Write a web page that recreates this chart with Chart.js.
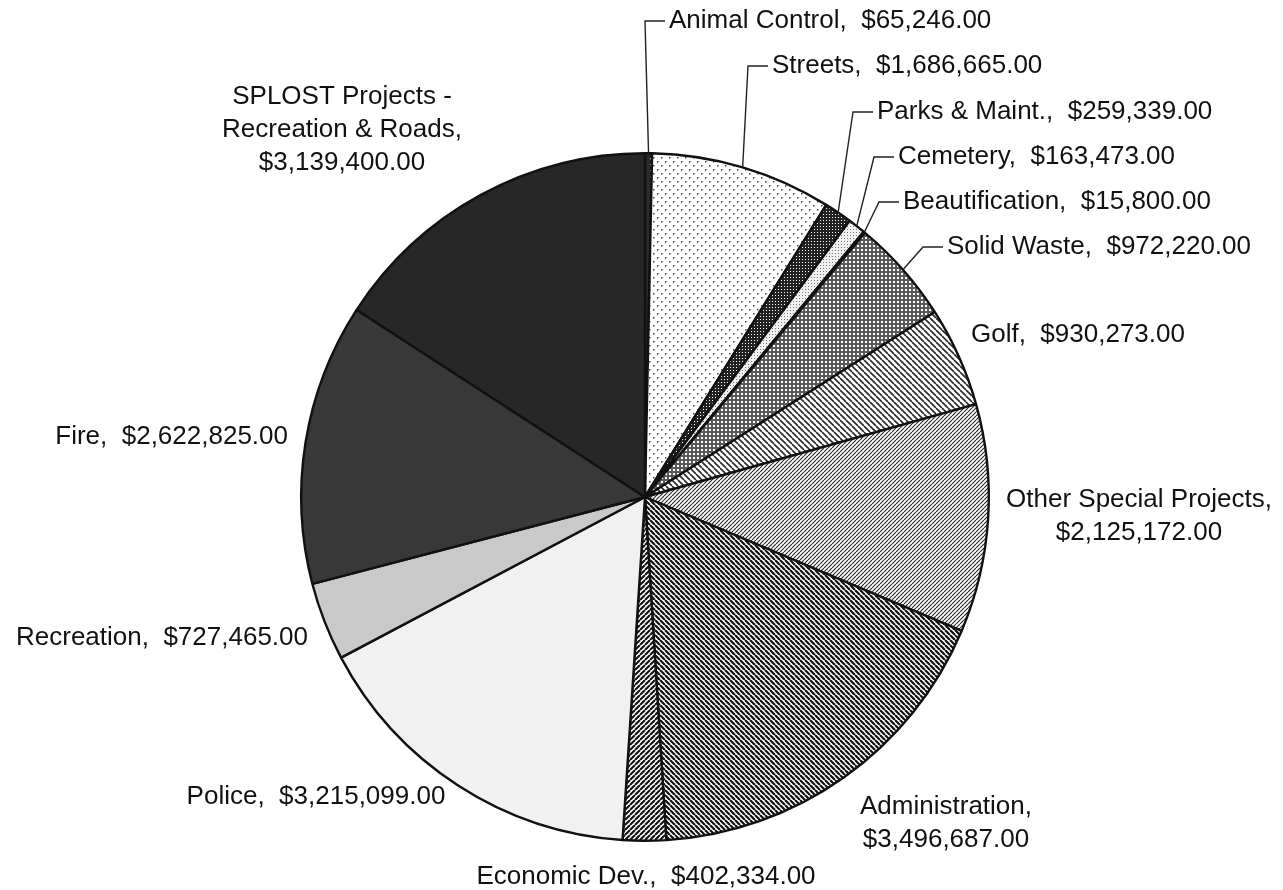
<!DOCTYPE html>
<html><head><meta charset="utf-8">
<script src="https://cdn.jsdelivr.net/npm/chart.js@4/dist/chart.umd.min.js"></script>
<style>html,body{margin:0;padding:0;background:#fff}#wrap{width:1283px;height:890px;position:relative}</style>
</head><body><div id="wrap"><canvas id="c"></canvas></div>
<script>
// ---- data ----
const categories = ["Animal Control","Streets","Parks & Maint.","Cemetery","Beautification","Solid Waste","Golf","Other Special Projects","Administration","Economic Dev.","Police","Recreation","Fire","SPLOST Projects - Recreation & Roads"];
const amounts = [65246,1686665,259339,163473,15800,972220,930273,2125172,3496687,402334,3215099,727465,2622825,3139400];
// label text lines (name part); value line is appended from amounts
const labelNameLines = [
  ["Animal Control,"],["Streets,"],["Parks & Maint.,"],["Cemetery,"],["Beautification,"],["Solid Waste,"],["Golf,"],
  ["Other Special Projects,"],["Administration,"],["Economic Dev.,"],["Police,"],["Recreation,"],["Fire,"],
  ["SPLOST Projects -","Recreation & Roads,"]
];
const multiLine = [false,false,false,false,false,false,false,true,true,false,false,false,false,true];

// ---- label layout (offsets from pie centre) ----
const labelLayout = [
  {dx:24, dy:-476, align:'left', leader:true},
  {dx:127,dy:-431, align:'left', leader:true},
  {dx:232,dy:-385, align:'left', leader:true},
  {dx:253,dy:-340, align:'left', leader:true},
  {dx:258,dy:-295, align:'left', leader:true},
  {dx:302,dy:-250, align:'left', leader:true},
  {dx:326,dy:-162, align:'left'},
  {dx:494,dy:3,    align:'center'},
  {dx:301,dy:310,  align:'center'},
  {dx:1,  dy:380,  align:'center'},
  {dx:-329,dy:300, align:'center'},
  {dx:-337,dy:141, align:'right'},
  {dx:-357,dy:-60, align:'right'},
  {dx:-303,dy:-400,align:'center'}
];

const money = v => '$' + v.toLocaleString('en-US',{minimumFractionDigits:2, maximumFractionDigits:2});
const labelLines = categories.map((c,i)=>{
  const names = labelNameLines[i];
  if (multiLine[i]) return names.concat([money(amounts[i])]);
  return [names[0] + '  ' + money(amounts[i])];
});

// ---- fill patterns ----
const mainCanvas = document.getElementById('c');
const mctx = mainCanvas.getContext('2d');
function makePattern(size, draw){
  const c=document.createElement('canvas'); c.width=size; c.height=size;
  const x=c.getContext('2d'); draw(x,size); return mctx.createPattern(c,'repeat');
}
function diag(size, dir, lw, color, bg){
  return makePattern(size,(x,s)=>{
    x.fillStyle=bg; x.fillRect(0,0,s,s);
    x.strokeStyle=color; x.lineWidth=lw; x.beginPath();
    for(let k=-1;k<=1;k++){
      if(dir==='/'){ x.moveTo(k*s, s); x.lineTo(k*s+s, 0); }
      else { x.moveTo(k*s, 0); x.lineTo(k*s+s, s); }
    }
    x.stroke();
  });
}
function dots(size, bg, color, pts, d){
  return makePattern(size,(x,s)=>{
    x.fillStyle=bg; x.fillRect(0,0,s,s);
    x.fillStyle=color; pts.forEach(p=>x.fillRect(p[0],p[1],d,d));
  });
}
const fills = [
  dots(6,'#2b2b2b','#ffffff',[[2,2]],1.5),               // Animal Control
  dots(8,'#ffffff','#444444',[[1,1],[5,5]],1.5),         // Streets
  dots(3,'#222222','#ffffff',[[1,1]],1),                 // Parks
  dots(3,'#f0f0f0','#777777',[[1,1]],1),                 // Cemetery
  '#ffffff',                                            // Beautification
  dots(4,'#5a5a5a','#ffffff',[[1,1]],2),                 // Solid Waste
  diag(6,'\\',1.6,'#2a2a2a','#ffffff'),                 // Golf
  diag(4,'/',1.2,'#2e2e2e','#ffffff'),                  // Other Special Projects
  diag(5,'\\',2.2,'#111111','#ffffff'),                 // Administration
  diag(5,'/',2.1,'#111111','#ffffff'),                  // Economic Dev.
  '#f1f1f1',                                            // Police
  '#c9c9c9',                                            // Recreation
  '#383838',                                            // Fire
  '#272727'                                             // SPLOST
];

const labelPlugin = {
  id:'sliceLabels',
  afterDatasetsDraw(chart){
    const ctx=chart.ctx; const meta=chart.getDatasetMeta(0);
    const cx=meta.data[0].x, cy=meta.data[0].y;
    ctx.save();
    ctx.font='26px "Liberation Sans", Arial, sans-serif';
    ctx.fillStyle='#111'; ctx.textBaseline='middle';
    meta.data.forEach((arc,i)=>{
      const L=labelLayout[i]; const tx=cx+L.dx, ty=cy+L.dy;
      if(L.leader){
        const mid=(arc.startAngle+arc.endAngle)/2;
        const ax=cx+Math.cos(mid)*arc.outerRadius, ay=cy+Math.sin(mid)*arc.outerRadius;
        ctx.beginPath(); ctx.moveTo(ax,ay); ctx.lineTo(tx-24,ty); ctx.lineTo(tx-4,ty);
        ctx.strokeStyle='#222'; ctx.lineWidth=1.4; ctx.stroke();
      }
      ctx.textAlign=L.align;
      labelLines[i].forEach((t,j)=>ctx.fillText(t, tx, ty + j*33));
    });
    ctx.restore();
  }
};

new Chart(mainCanvas, {
  type:'pie',
  data:{ labels:categories, datasets:[{ data:amounts, backgroundColor:fills, borderColor:'#111', borderWidth:2.4 }] },
  options:{
    responsive:true, maintainAspectRatio:false, animation:false,
    layout:{ padding:{left:300,right:293,top:152,bottom:48} },
    plugins:{ legend:{display:false}, tooltip:{enabled:false} }
  },
  plugins:[labelPlugin]
});
</script>
</body></html>
